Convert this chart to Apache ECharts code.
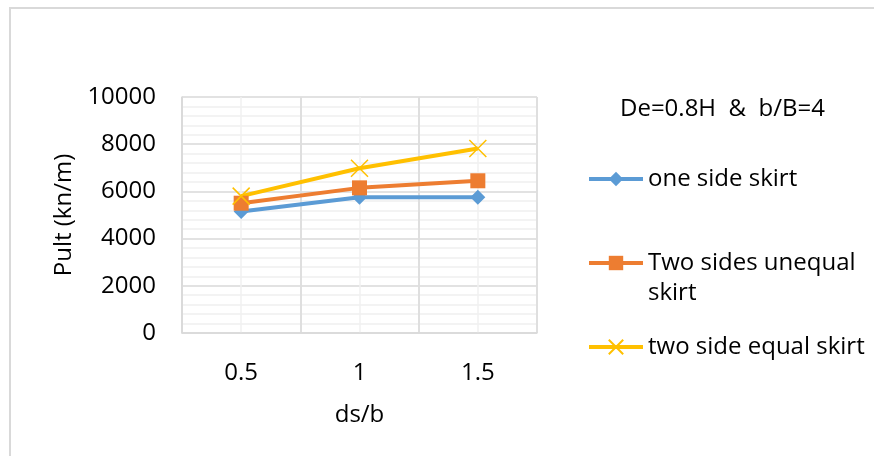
<!DOCTYPE html>
<html><head><meta charset="utf-8">
<script src="https://cdn.jsdelivr.net/npm/echarts@6/dist/echarts.min.js"></script>
<style>html,body{margin:0;padding:0;background:#fff}#c{width:874px;height:456px}</style>
</head><body><div id="c"></div>
<script>
const categories = ['0.5', '1', '1.5'];
const oneSide = [5150, 5750, 5750];
const twoUnequal = [5500, 6150, 6450];
const twoEqual = [5800, 6980, 7820];
const seriesNames = ['one side skirt', 'Two sides unequal skirt', 'two side equal skirt'];
const legendTitle = 'De=0.8H  &  b/B=4';
const yName = 'Pult (kn/m)';
const xName = 'ds/b';

const FONT = 'Open Sans';
const FS = 24;
const chart = echarts.init(document.getElementById('c'));
const legendBase = {orient: 'vertical', left: 587, padding: 0, itemWidth: 54, itemHeight: 18,
  lineStyle: {width: 4},
  textStyle: {fontFamily: FONT, fontSize: FS, color: '#000', lineHeight: 28}};
chart.setOption({
  animation: false,
  textStyle: {fontFamily: FONT},
  title: {text: legendTitle, left: 620, top: 95, padding: 0,
    textStyle: {fontFamily: FONT, fontSize: FS, fontWeight: 'normal', color: '#000', lineHeight: 28}},
  graphic: [{type: 'rect', shape: {x: 10, y: 8, width: 1000, height: 1000},
    style: {fill: 'none', stroke: '#D9D9D9', lineWidth: 2}, z: -10}],
  legend: [
    Object.assign({}, legendBase, {top: 165, data: [seriesNames[0]]}),
    Object.assign({}, legendBase, {top: 218, data: [seriesNames[1]],
      formatter: () => '\nTwo sides unequal\nskirt',
      textStyle: {fontFamily: FONT, fontSize: FS, color: '#000', lineHeight: 30}}),
    Object.assign({}, legendBase, {top: 333, data: [seriesNames[2]]})
  ],
  grid: {left: 182, top: 97, right: 337, bottom: 123},
  xAxis: [{
    type: 'category', data: categories, z: 2,
    name: xName, nameLocation: 'middle', nameGap: 70,
    nameTextStyle: {fontFamily: FONT, fontSize: FS, color: '#000'},
    axisLine: {show: true, lineStyle: {color: '#D9D9D9', width: 1.5}},
    axisTick: {show: false},
    axisLabel: {margin: 28, fontFamily: FONT, fontSize: FS, color: '#000'},
    splitLine: {show: true, lineStyle: {color: '#D9D9D9', width: 1.5}}
  }, {
    type: 'value', min: 0, max: 3, interval: 0.5, z: 0,
    axisLine: {show: false}, axisTick: {show: false}, axisLabel: {show: false},
    splitLine: {show: true, lineStyle: {color: '#F0F0F0', width: 1.5}}
  }],
  yAxis: {
    type: 'value', min: 0, max: 10000, interval: 2000,
    name: yName, nameLocation: 'middle', nameGap: 106,
    nameTextStyle: {fontFamily: FONT, fontSize: FS, color: '#000'},
    axisLine: {show: true, lineStyle: {color: '#D9D9D9', width: 1.5}},
    axisTick: {show: false},
    axisLabel: {margin: 26, fontFamily: FONT, fontSize: FS, color: '#000', formatter: v => String(v)},
    splitLine: {show: true, lineStyle: {color: '#D9D9D9', width: 1.5}},
    minorTick: {show: false, splitNumber: 5},
    minorSplitLine: {show: true, lineStyle: {color: '#F0F0F0', width: 1.5}}
  },
  series: [
    {name: seriesNames[0], type: 'line', data: oneSide, symbol: 'diamond', symbolSize: 15,
      lineStyle: {color: '#5B9BD5', width: 4}, itemStyle: {color: '#5B9BD5'}},
    {name: seriesNames[1], type: 'line', data: twoUnequal, symbol: 'rect', symbolSize: 15,
      lineStyle: {color: '#ED7D31', width: 4}, itemStyle: {color: '#ED7D31'}},
    {name: seriesNames[2], type: 'line', data: twoEqual, symbol: 'path://M0,0L10,10M10,0L0,10', symbolSize: 17,
      lineStyle: {color: '#FFC000', width: 4},
      itemStyle: {color: '#FFC000', borderColor: '#FFC000', borderWidth: 1.5}}
  ]
});
</script></body></html>
